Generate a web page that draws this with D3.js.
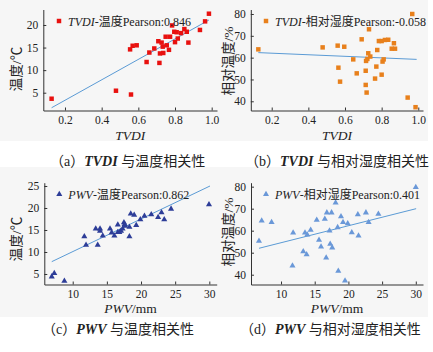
<!DOCTYPE html>
<html>
<head>
<meta charset="utf-8">
<script src="https://cdn.jsdelivr.net/npm/d3@7"></script>
<style>
  body { margin: 0; background: #fff; }
  text { font-family: 'Liberation Serif', 'Times New Roman', 'Noto Sans CJK SC', serif; }
</style>
</head>
<body>
<div id="chart"></div>
<script>
// (a) TVDI vs temperature
const tvdiA = [0.127, 0.478, 0.56, 0.555, 0.569, 0.591, 0.645, 0.66, 0.687, 0.709, 0.715, 0.718, 0.727, 0.736, 0.733,
  0.749, 0.755, 0.767, 0.773, 0.784, 0.796, 0.8, 0.809, 0.815, 0.833, 0.851, 0.864, 0.873, 0.936, 0.964, 0.985];
const tempA = [3.67, 5.44, 4.6, 14.6, 15.4, 15.5, 11.8, 13.9, 14.8, 16.4, 11.6, 13.7, 16.1, 13.8, 15.2,
  17.4, 15.5, 14.5, 17.4, 19.9, 18.5, 16.2, 18.4, 17.0, 18.2, 19.1, 18.5, 16.1, 18.9, 20.8, 22.5];
const fitAx = [0.127, 0.985];
const fitAy = [1.67, 21.1];

// (b) TVDI vs relative humidity
const tvdiB = [0.127, 0.478, 0.56, 0.564, 0.573, 0.596, 0.645, 0.664, 0.691, 0.713, 0.713, 0.718, 0.715, 0.722, 0.731,
  0.727, 0.738, 0.764, 0.771, 0.776, 0.785, 0.8, 0.8, 0.805, 0.811, 0.818, 0.836, 0.855, 0.867, 0.873, 0.942, 0.967, 0.985];
const rhB = [63.8, 64.7, 65.5, 55.4, 49.0, 65.0, 59.2, 52.8, 68.4, 54.0, 47.5, 44.0, 58.5, 59.4, 73.0,
  62.0, 60.5, 50.4, 55.9, 63.5, 67.6, 67.6, 52.2, 58.2, 59.2, 68.1, 68.2, 64.1, 66.6, 64.1, 41.7, 80.0, 37.3];
const fitBx = [0.127, 0.991];
const fitBy = [62.3, 59.2];

// (c) PWV vs temperature
const pwvC = [6.93, 7.3, 8.78, 11.7, 11.95, 13.37, 13.66, 14.0, 14.0, 14.4, 15.46, 15.7, 16.1, 16.6, 16.6, 16.83, 17.07,
  17.3, 17.5, 17.6, 17.7, 18.3, 18.3, 18.5, 19.0, 19.3, 19.9, 20.5, 21.5, 22.5, 23.0, 23.4, 24.4, 29.95];
const tempC = [4.4, 5.15, 3.4, 13.5, 11.6, 15.3, 11.6, 15.3, 14.8, 13.7, 15.3, 14.4, 13.7, 16.2, 14.5, 14.5, 14.8,
  15.3, 16.7, 16.3, 15.9, 15.7, 13.5, 18.7, 18.4, 16.1, 17.4, 18.2, 18.5, 17.9, 19.0, 17.4, 19.8, 20.8];
const fitCx = [6.93, 30.1];
const fitCy = [7.8, 25.0];

// (d) PWV vs relative humidity
const pwvD = [6.73, 7.13, 8.6, 11.7, 11.8, 13.3, 13.56, 13.8, 13.9, 14.4, 15.3, 15.64, 15.94, 16.5, 16.7, 16.8, 17.2,
  17.3, 17.5, 17.6, 18.1, 18.4, 18.5, 18.9, 19.2, 19.5, 19.9, 20.5, 21.4, 21.5, 22.6, 23.0, 24.45, 30.0];
const rhD = [55.3, 64.5, 63.8, 44.1, 59.1, 50.5, 59.1, 49.2, 58.2, 60.3, 64.8, 55.8, 52.7, 65.3, 47.7, 68.2, 60.0,
  53.9, 68.2, 52.3, 72.7, 61.5, 41.7, 66.4, 63.8, 37.3, 63.3, 59.2, 67.4, 57.7, 68.2, 63.8, 67.6, 79.7];
const fitDx = [6.73, 30.05];
const fitDy = [52.0, 70.0];

const tvdiTicks = [0.2, 0.4, 0.6, 0.8, 1.0];
const pwvTicks = [10, 15, 20, 25, 30];
const tempTicksA = [5, 10, 15, 20];
const tempTicksC = [5, 10, 15, 20, 25];
const rhTicks = [40, 50, 60, 70, 80];

const width = 433;
const height = 352;
const lineColor = '#5b9bd5';
const axisColor = '#333';

const svg = d3.select('#chart').append('svg')
  .attr('width', width)
  .attr('height', height);

// light grey backdrop behind the figure images
svg.append('rect').attr('x', 0).attr('y', 0).attr('width', 428).attr('height', 141).attr('fill', '#f6f6f6');
svg.append('rect').attr('x', 0).attr('y', 167).attr('width', 428).attr('height', 150).attr('fill', '#f6f6f6');

const panels = [
  {xs: tvdiA, ys: tempA, fx: fitAx, fy: fitAy, box: [43.3, 217, 9.5, 110.5], xd: [0.0817, 1.029], yd: [1.06, 23.43],
   xt: tvdiTicks, yt: tempTicksA, xf: d3.format('.1f'), marker: 'square', color: '#e8110f',
   lead: 'TVDI', rest: '-温度Pearson:0.846', lx: 59, ly: 21, ytitle: '温度/℃', ytx: 16.5, yty: 69, xtitle: ['TVDI', ''], xty: 140},
  {xs: tvdiB, ys: rhB, fx: fitBx, fy: fitBy, box: [250.8, 423, 9.5, 110.5], xd: [0.0859, 1.0257], yd: [35.78, 82.06],
   xt: tvdiTicks, yt: rhTicks, xf: d3.format('.1f'), marker: 'square', color: '#e8801c',
   lead: 'TVDI', rest: '-相对湿度Pearson:-0.058', lx: 266, ly: 21, ytitle: '相对温度/%', ytx: 228, yty: 61, xtitle: ['TVDI', ''], xty: 140},
  {xs: pwvC, ys: tempC, fx: fitCx, fy: fitCy, box: [44.3, 216.7, 182.7, 284.5], xd: [5.84, 31.08], yd: [2.61, 25.75],
   xt: pwvTicks, yt: tempTicksC, xf: d3.format('d'), marker: 'triangle', color: '#2d3d98',
   lead: 'PWV', rest: '-温度Pearson:0.862', lx: 59.3, ly: 194.3, ytitle: '温度/℃', ytx: 16.5, yty: 239, xtitle: ['PWV', '/mm'], xty: 313},
  {xs: pwvD, ys: rhD, fx: fitDx, fy: fitDy, box: [251, 423, 182.7, 284.5], xd: [5.545, 31.07], yd: [35.55, 81.8],
   xt: pwvTicks, yt: rhTicks, xf: d3.format('d'), marker: 'triangle', color: '#6a98d8',
   lead: 'PWV', rest: '-相对湿度Pearson:0.401', lx: 266, ly: 194.3, ytitle: '相对温度/%', ytx: 228, yty: 232, xtitle: ['PWV', '/mm'], xty: 313}
];

const drawPanel = (p) => {
  const [x0, x1, y0, y1] = p.box;
  const xScale = d3.scaleLinear().domain(p.xd).range([x0, x1]);
  const yScale = d3.scaleLinear().domain(p.yd).range([y1, y0]);
  const g = svg.append('g');

  // fitted line
  g.append('path')
    .datum(d3.zip(p.fx, p.fy))
    .attr('d', d3.line().x(d => xScale(d[0])).y(d => yScale(d[1])))
    .attr('stroke', lineColor)
    .attr('stroke-width', 1)
    .attr('fill', 'none');

  const symbolType = p.marker === 'square' ? d3.symbolSquare : d3.symbolTriangle;
  const symbolSize = p.marker === 'square' ? 20 : 16;

  g.selectAll('.pt')
    .data(d3.zip(p.xs, p.ys))
    .join('path')
      .attr('class', 'pt')
      .attr('transform', d => `translate(${xScale(d[0])}, ${yScale(d[1])})`)
      .attr('d', d3.symbol().type(symbolType).size(symbolSize))
      .attr('fill', p.color);

  // axes, ticks pointing inward
  g.append('g')
    .attr('transform', `translate(0, ${y1})`)
    .call(d3.axisBottom(xScale).tickValues(p.xt).tickFormat(p.xf).tickSizeInner(-3).tickSizeOuter(0).tickPadding(5))
    .call(a => a.select('.domain').attr('stroke', axisColor))
    .call(a => a.selectAll('.tick line').attr('stroke', axisColor))
    .call(a => a.selectAll('.tick text').style('font-size', '11.5px').attr('fill', '#222'));

  g.append('g')
    .attr('transform', `translate(${x0}, 0)`)
    .call(d3.axisLeft(yScale).tickValues(p.yt).tickSizeInner(-3).tickSizeOuter(0).tickPadding(5))
    .call(a => a.select('.domain').attr('stroke', axisColor))
    .call(a => a.selectAll('.tick line').attr('stroke', axisColor))
    .call(a => a.selectAll('.tick text').style('font-size', '11.5px').attr('fill', '#222'));

  // legend
  g.append('path')
    .attr('transform', `translate(${p.lx}, ${p.ly})`)
    .attr('d', d3.symbol().type(symbolType).size(symbolSize))
    .attr('fill', p.color);

  const lt = g.append('text')
    .attr('x', p.lx + 9)
    .attr('y', p.ly + 4.5)
    .style('font-size', '12px')
    .attr('fill', '#222');
  lt.append('tspan').style('font-style', 'italic').text(p.lead);
  lt.append('tspan').text(p.rest);

  // axis titles
  g.append('text')
    .attr('transform', `translate(${p.ytx}, ${p.yty}) rotate(-90)`)
    .attr('text-anchor', 'middle')
    .attr('dy', '0.35em')
    .style('font-size', '13.5px')
    .attr('fill', '#222')
    .text(p.ytitle);

  const xt = g.append('text')
    .attr('x', (x0 + x1) / 2)
    .attr('y', p.xty)
    .attr('text-anchor', 'middle')
    .style('font-size', '13.5px')
    .attr('fill', '#222');
  xt.append('tspan').style('font-style', 'italic').text(p.xtitle[0]);
  xt.append('tspan').text(p.xtitle[1]);
};

panels.forEach(drawPanel);

// captions
const captions = [
  {x: 50, y: 166, tag: '（a）', key: 'TVDI', rest: ' 与温度相关性'},
  {x: 245, y: 166, tag: '（b）', key: 'TVDI', rest: ' 与相对湿度相关性'},
  {x: 42, y: 334, tag: '（c）', key: 'PWV', rest: ' 与温度相关性'},
  {x: 240, y: 334, tag: '（d）', key: 'PWV', rest: ' 与相对湿度相关性'}
];

captions.forEach(c => {
  const t = svg.append('text')
    .attr('x', c.x)
    .attr('y', c.y)
    .style('font-size', '14px')
    .attr('fill', '#222');
  t.append('tspan').text(c.tag);
  t.append('tspan').style('font-style', 'italic').style('font-weight', 'bold').text(c.key);
  t.append('tspan').text(c.rest);
});
</script>
</body>
</html>
